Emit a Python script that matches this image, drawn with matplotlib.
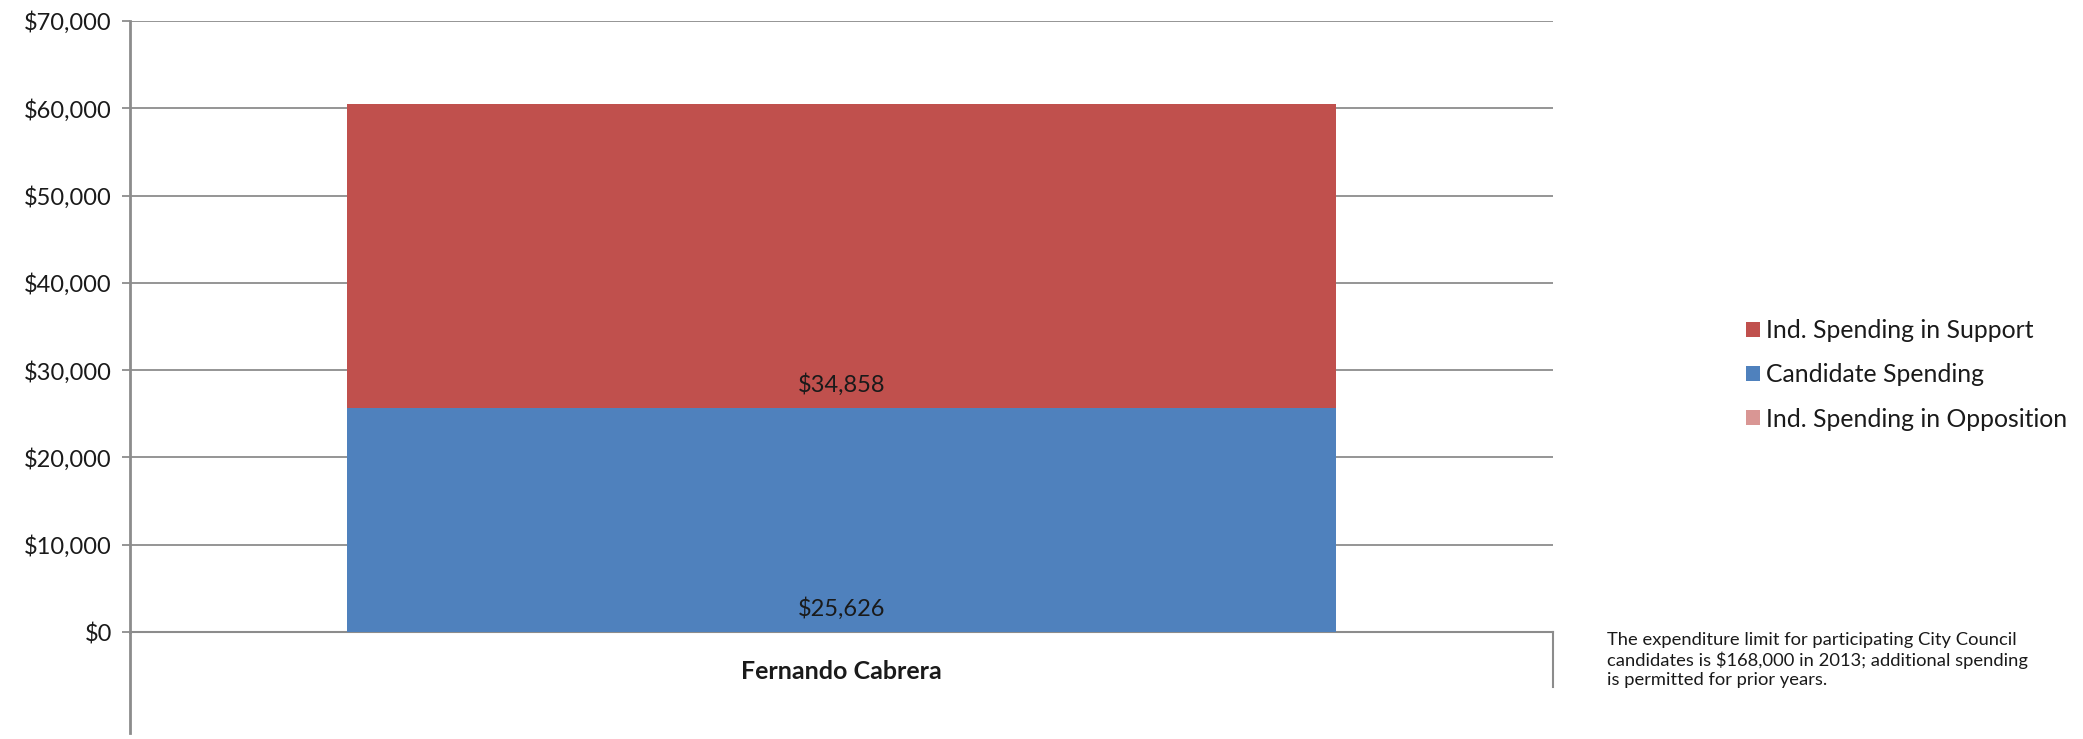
import matplotlib
matplotlib.use("Agg")
import matplotlib.pyplot as plt
from matplotlib.ticker import FuncFormatter, MultipleLocator

candidates = ["Fernando Cabrera"]
candidate_spending = [25626]
ind_support = [34858]
ind_opposition = [0]
series_labels = ["Ind. Spending in Support", "Candidate Spending", "Ind. Spending in Opposition"]
footnote = ("The expenditure limit for participating City Council\n"
            "candidates is $168,000 in 2013; additional spending\n"
            "is permitted for prior years.")

FONT = ["Lato", "DejaVu Sans"]
plt.rcParams['font.family'] = FONT

W, H = 2083, 739
fig = plt.figure(figsize=(W / 100, H / 100), dpi=100)
left, right, bottom, top = 130 / W, 1553 / W, 1 - 632 / H, 1 - 21 / H
ax = fig.add_axes([left, bottom, right - left, top - bottom])

grid_c = "#8c8c8c"
c_blue = "#4F81BD"
c_red = "#C0504D"
c_pink = "#D99694"
txt_c = "#1a1a1a"

x = list(range(len(candidates)))
bw = 0.695
b1 = ax.bar(x, candidate_spending, width=bw, color=c_blue, linewidth=0, zorder=3)
b2 = ax.bar(x, ind_support, width=bw, bottom=candidate_spending, color=c_red, linewidth=0, zorder=3)
bottoms3 = [a + b for a, b in zip(candidate_spending, ind_support)]
b3 = ax.bar(x, ind_opposition, width=bw, bottom=bottoms3, color=c_pink, linewidth=0, zorder=3)

ax.set_xlim(-0.5, len(candidates) - 0.5)
ax.set_ylim(0, 70000)
ax.yaxis.set_major_locator(MultipleLocator(10000))
ax.yaxis.set_major_formatter(FuncFormatter(lambda v, p: "${:,.0f}".format(v)))
ax.grid(axis='y', color=grid_c, linewidth=1.3, zorder=0)
ax.set_axisbelow(True)
for s in ["top", "right"]:
    ax.spines[s].set_visible(False)
ax.spines["bottom"].set_color(grid_c)
ax.spines["bottom"].set_linewidth(1.5)
ax.spines["left"].set_color(grid_c)
ax.spines["left"].set_linewidth(2)
ax.tick_params(axis='y', length=6, color=grid_c, width=1.3, labelsize=17, pad=7, labelcolor=txt_c)
ax.tick_params(axis='x', length=0)
ax.set_xticks(x)
ax.set_xticklabels([""] * len(candidates))

# category labels (Excel-style, below the axis)
for xi, name in zip(x, candidates):
    ax.text(xi, -0.065, name, transform=ax.get_xaxis_transform(), ha='center', va='center',
            fontsize=18, fontweight='bold', color=txt_c)

# extended left axis and category boundary tick
axh = 632 - 21
ax.plot([0, 0], [0, -(733 - 632) / axh], transform=ax.transAxes, color=grid_c, lw=2, clip_on=False)
ax.plot([1, 1], [0, -(687 - 632) / axh], transform=ax.transAxes, color=grid_c, lw=1.5, clip_on=False)

# data labels at inside base
off = 2700
for xi, v in zip(x, candidate_spending):
    ax.text(xi, off, "${:,.0f}".format(v), ha='center', va='center', fontsize=17, color=txt_c, zorder=5)
for xi, b, v in zip(x, candidate_spending, ind_support):
    ax.text(xi, b + off, "${:,.0f}".format(v), ha='center', va='center', fontsize=17, color=txt_c, zorder=5)

leg = fig.legend([b2, b1, b3], series_labels, loc='center left', bbox_to_anchor=(1746 / W, 1 - 375 / H),
                 frameon=False, fontsize=17.8, handlelength=0.55, handleheight=0.55, handletextpad=0.25,
                 labelspacing=0.85, borderaxespad=0, borderpad=0)
for t in leg.get_texts():
    t.set_color(txt_c)

fig.text(1607 / W, 1 - 660 / H, footnote, ha='left', va='center', fontsize=13.2,
         linespacing=1.2, color=txt_c)

fig.savefig("out.png", dpi=100)
